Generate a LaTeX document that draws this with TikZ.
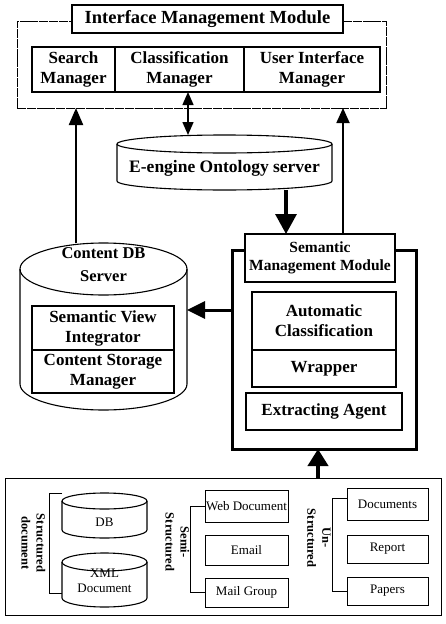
\documentclass[tikz,border=0pt]{standalone}
\usepackage{fontspec}
\setmainfont{Liberation Serif}
\usetikzlibrary{arrows.meta}

% cylinder outline drawn on an (invisible) node: name, x radius, y radius
\newcommand{\drum}[3]{%
  \draw[line width=1.1pt] ([yshift=-#3]#1.north west) -- ([yshift=#3]#1.south west)
    arc[start angle=180, end angle=360, x radius=#2, y radius=#3]
    -- ([yshift=-#3]#1.north east);
  \draw[line width=1.1pt] ([yshift=-#3]#1.north) ellipse[x radius=#2, y radius=#3];}

\begin{document}
\begin{tikzpicture}[
  x=1pt, y=-1pt,
  mbox/.style={draw,line width=1.1pt,inner sep=0pt,outer sep=0pt,align=center,
    font=\fontsize{17}{20}\selectfont\bfseries},
  sbox/.style={draw,line width=1pt,inner sep=0pt,outer sep=0pt,align=center,
    font=\fontsize{13}{15}\selectfont},
  drumbox/.style={inner sep=0pt,outer sep=0pt},
  vlabel/.style={rotate=-90,align=center,font=\fontsize{12.5}{15}\selectfont\bfseries}
]
  \useasboundingbox (0,0) rectangle (446,624);

  % interface management module
  \node[draw,line width=0.7pt,dash pattern=on 9pt off 0.8pt,inner sep=0pt,outer sep=0pt,
    minimum width=369pt,minimum height=87pt] (imf) at (201.5,64.5) {};
  \node[mbox,fill=white,minimum width=271pt,minimum height=28pt,
    font=\fontsize{18.5}{20}\selectfont\bfseries] (imm) at (207.5,19) {Interface Management Module};
  \node[mbox,minimum width=83pt,minimum height=45pt] (sm) at (73.5,69.5) {Search\\Manager};
  \node[mbox,minimum width=129pt,minimum height=45pt] (cm) at (179.5,69.5) {Classification\\Manager};
  \node[mbox,minimum width=136pt,minimum height=45pt] (um) at (312,69.5) {User Interface\\Manager};

  % ontology server
  \node[drumbox,minimum width=215pt,minimum height=55pt] (eng) at (224.5,162.5) {};
  \drum{eng}{107.5pt}{9pt}
  \node[font=\fontsize{17.5}{20}\selectfont\bfseries] (engt) at (224.5,168) {E-engine Ontology server};

  % semantic management module
  \node[draw,line width=3pt,inner sep=0pt,outer sep=0pt,
    minimum width=184pt,minimum height=199pt] (smm) at (324,349.5) {};
  \node[mbox,fill=white,minimum width=150pt,minimum height=48pt,
    font=\fontsize{15.5}{18.5}\selectfont\bfseries] (smt) at (320,258) {Semantic\\Management Module};
  \node[mbox,minimum width=144pt,minimum height=58pt] (ac) at (324,321) {Automatic\\Classification};
  \node[mbox,minimum width=144pt,minimum height=37pt] (wr) at (324,368.5) {Wrapper};
  \node[mbox,minimum width=156pt,minimum height=37pt] (ea) at (324,411.5) {Extracting Agent};

  % content db server
  \node[drumbox,minimum width=167pt,minimum height=167pt] (cdb) at (103.5,326.5) {};
  \drum{cdb}{83.5pt}{26pt}
  \node[align=center,font=\fontsize{16.5}{23}\selectfont\bfseries] (cdbt) at (103.5,265) {Content DB\\Server};
  \node[mbox,minimum width=142pt,minimum height=44pt] (svi) at (103,328) {Semantic View\\Integrator};
  \node[mbox,minimum width=142pt,minimum height=43pt] (csm) at (103,371.5) {Content Storage\\Manager};

  % sources
  \node[draw,line width=1pt,inner sep=0pt,outer sep=0pt,
    minimum width=436pt,minimum height=137pt] (src) at (223,546.5) {};
  \node[drumbox,minimum width=85pt,minimum height=45pt] (db) at (104.5,515.5) {};
  \drum{db}{42.5pt}{8pt}
  \node[font=\fontsize{13}{15}\selectfont] (dbt) at (104.5,522) {DB};
  \node[drumbox,minimum width=85pt,minimum height=54pt] (xml) at (104.5,580) {};
  \drum{xml}{42.5pt}{9pt}
  \node[align=center,font=\fontsize{13}{15}\selectfont] (xmlt) at (104.5,581) {XML\\Document};
  \node[vlabel] (lst) at (33.5,543) {Structured\\document};

  \node[sbox,minimum width=83pt,minimum height=32pt] (web) at (246.5,506) {Web Document};
  \node[sbox,minimum width=83pt,minimum height=30pt] (mail) at (246.5,550) {Email};
  \node[sbox,minimum width=83pt,minimum height=29pt] (mgr) at (246.5,592.5) {Mail Group};
  \node[vlabel] (mst) at (177.5,542) {Semi-\\Structured};

  \node[sbox,minimum width=81pt,minimum height=32pt] (docs) at (387.5,504) {Documents};
  \node[sbox,minimum width=81pt,minimum height=28pt] (rep) at (387.5,549) {Report};
  \node[sbox,minimum width=81pt,minimum height=28pt] (pap) at (387.5,591) {Papers};
  \node[vlabel] (ust) at (319,538) {Un-\\Structured};

  % brackets
  \draw[line width=1pt] (db.north west) -- ++(-13,0) |- ([yshift=14pt]xml.south west);
  \draw[line width=1pt] (web.west) -- ++(-15,0) |- (mgr.west);
  \draw[line width=1pt] ([yshift=6pt]docs.west) -- ++(-15,0) |- (pap.west);

  % arrows
  \coordinate (xl) at (76,0);
  \coordinate (xb) at (188,0);
  \coordinate (xe) at (286,0);
  \coordinate (xr) at (343,0);
  \coordinate (xd) at (318,0);
  \coordinate (yh) at (0,310);
  \draw[line width=2.2pt,-{Triangle[length=17pt,width=14pt]}] (xl |- cdb.north) -- (xl |- imf.south);
  \draw[line width=1.8pt,-{Triangle[length=15pt,width=13pt]}] (xr |- smt.north) -- (xr |- imf.south);
  \draw[line width=1.4pt,{Triangle[length=13pt,width=11pt]}-{Triangle[length=13pt,width=11pt]}] (xb |- cm.south) -- (xb |- eng.north);
  \draw[line width=3.2pt,-{Triangle[length=20pt,width=21pt]}] (xe |- eng.south) -- (xe |- smt.north);
  \draw[line width=3pt,-{Triangle[length=18pt,width=17pt]}] (yh -| smm.west) -- (yh -| cdb.east);
  \draw[line width=4pt,-{Triangle[length=17pt,width=20pt]}] (xd |- src.north) -- (xd |- smm.south);

\end{tikzpicture}
\end{document}
